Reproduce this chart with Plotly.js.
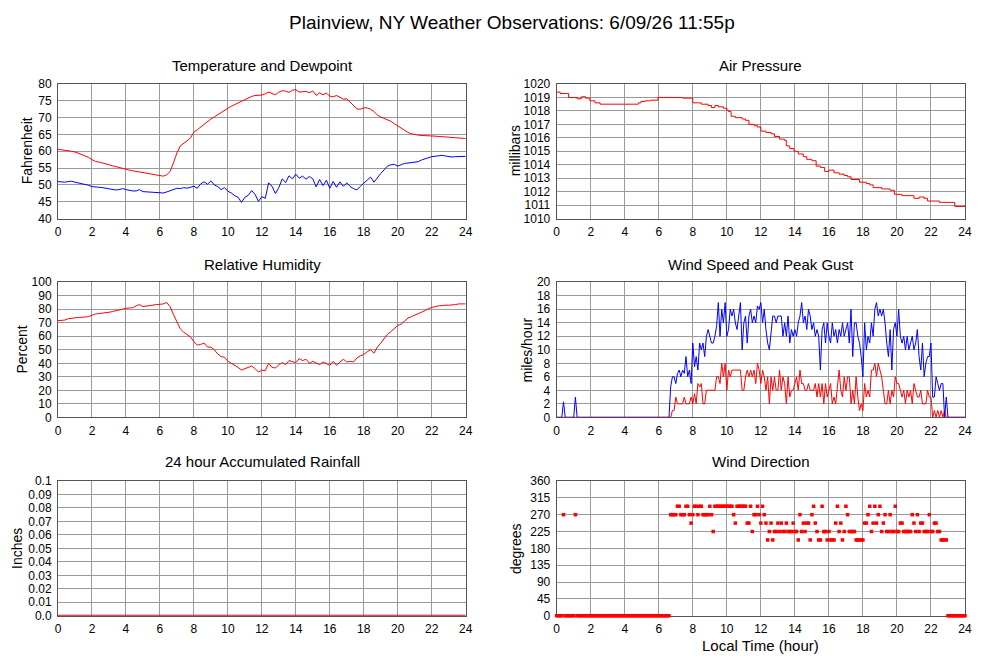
<!DOCTYPE html>
<html>
<head>
<meta charset="utf-8">
<script src="https://cdn.plot.ly/plotly-3.0.1.min.js"></script>
<style>
  html, body { margin: 0; padding: 0; background: #fff; }
  #chart { width: 1000px; height: 660px; }
</style>
</head>
<body>
<div id="chart"></div>
<script>
// ---------- time axes (local hour) ----------
const HOURS_FIFTH = Array.from({length: 121}, (_, i) => i / 5);   // 0, 0.2, ... 24
const HOURS_TENTH = Array.from({length: 241}, (_, i) => i / 10);  // 0, 0.1, ... 24
const HOURS_WHOLE = Array.from({length: 25}, (_, i) => i);        // 0, 1, ... 24
const X_TICKS = [0, 2, 4, 6, 8, 10, 12, 14, 16, 18, 20, 22, 24];

// ---------- Temperature (F), every 0.2 h ----------
const temperature = [
  60.6, 60.5, 60.3, 60.1, 60.0,
  59.8, 59.4, 59.1, 58.7, 58.2,
  57.5, 57.0, 56.8, 56.6, 56.3,
  56.0, 55.7, 55.4, 55.2, 55.0,
  54.7, 54.4, 54.2, 54.0, 53.8,
  53.6, 53.4, 53.2, 53.0, 52.8,
  52.6, 52.6, 53.0, 54.0, 56.6,
  59.5, 61.6, 62.3, 63.1, 64.0,
  65.7, 66.4, 67.2, 68.0, 68.9,
  69.6, 70.2, 70.9, 71.5, 72.2,
  72.8, 73.4, 73.9, 74.3, 74.8,
  75.5, 76.0, 76.3, 76.6, 76.7,
  76.7, 77.1, 77.6, 77.2, 76.8,
  77.6, 78.0, 77.9, 77.5, 78.2,
  78.3, 77.6, 77.6, 77.8, 77.4,
  77.9, 76.6, 77.4, 76.8, 77.3,
  76.4, 76.2, 76.6, 76.0, 75.5,
  75.6, 74.6, 73.8, 72.6, 72.5,
  72.9, 72.9, 72.5, 71.8, 70.8,
  70.2, 69.8, 69.4, 68.9, 68.2,
  67.5, 66.8, 66.1, 65.6, 65.2,
  64.9, 64.8, 64.7, 64.7, 64.6,
  64.5, 64.5, 64.4, 64.4, 64.3,
  64.2, 64.1, 64.0, 63.9, 63.9,
  63.8
];

// ---------- Dewpoint (F), every 0.2 h ----------
const dewpoint = [
  51.0, 50.9, 50.8, 51.0, 51.1,
  50.8, 50.6, 50.3, 50.1, 49.9,
  49.5, 49.3, 49.3, 49.2, 49.0,
  48.9, 48.7, 48.5, 48.6, 48.9,
  48.6, 48.3, 48.2, 48.2, 48.6,
  48.0, 47.9, 47.8, 47.8, 47.6,
  47.5, 47.6, 47.9, 48.3, 48.7,
  49.0, 48.9, 49.2, 49.0, 49.3,
  49.6, 49.0, 50.3, 50.9, 50.2,
  51.2, 50.0, 49.5, 48.6, 49.2,
  48.1, 47.6, 46.8, 46.3, 44.8,
  46.3, 46.9, 48.3, 47.2, 45.1,
  46.5, 46.0, 50.6, 49.6, 47.4,
  49.2, 51.8, 50.7, 52.7, 51.8,
  53.2, 52.0, 52.6, 51.7, 52.5,
  51.8, 49.4, 51.6, 49.8, 51.4,
  49.0, 51.0, 49.3, 50.9, 49.6,
  50.6, 49.5, 48.9, 48.5, 49.6,
  50.5, 51.5, 52.3, 50.8, 52.2,
  53.4, 54.5, 55.6, 56.0, 56.1,
  55.6, 56.1, 56.4, 56.5, 56.7,
  56.8, 56.9, 57.4, 57.7, 58.2,
  58.4, 58.5, 58.7, 58.8, 58.6,
  58.4, 58.3, 58.4, 58.5, 58.5,
  58.5
];

// ---------- Air pressure (mb), value holds from each change time ----------
const pressureHours = [
  0, 0.2, 0.7, 1.2, 1.45, 1.7, 1.95, 2.25, 2.55,
  4.8, 4.95, 5.2, 5.5, 5.95,
  7.4, 8.0, 8.5, 8.9, 9.1, 9.3, 9.5, 9.8, 10.0, 10.1,
  10.25, 10.5, 10.9, 11.1, 11.3, 11.6, 11.8, 12.0, 12.3, 12.6,
  12.8, 13.1, 13.4, 13.5, 13.7, 13.95, 14.2, 14.5, 14.7, 15.0,
  15.25, 15.5, 15.75, 16.0, 16.3, 16.6, 16.9, 17.1, 17.3, 17.8,
  18.2, 18.4, 18.6, 19.1, 19.6, 19.85, 20.3, 21.0, 21.3, 21.6,
  21.8, 22.5, 23.4, 24
];
const pressure = [
  1019.4, 1019.3, 1019.0, 1018.9, 1019.05, 1018.95, 1018.75, 1018.6, 1018.5,
  1018.6, 1018.7, 1018.75, 1018.8, 1019.0,
  1018.95, 1018.6, 1018.5, 1018.4, 1018.25, 1018.4, 1018.3, 1018.2, 1018.05, 1017.95,
  1017.6, 1017.5, 1017.4, 1017.3, 1017.0, 1016.9, 1016.8, 1016.5, 1016.4, 1016.3,
  1016.1, 1015.9, 1015.8, 1015.4, 1015.2, 1015.0, 1014.8, 1014.6, 1014.4, 1014.3,
  1013.9, 1013.8, 1013.5, 1013.6, 1013.4, 1013.3, 1013.2, 1013.1, 1012.9, 1012.7,
  1012.6, 1012.5, 1012.3, 1012.2, 1012.1, 1011.8, 1011.7, 1011.5, 1011.6, 1011.5,
  1011.3, 1011.2, 1010.9, 1010.9
];

// ---------- Relative humidity (%), every 0.2 h ----------
const humidity = [
  71.6, 71.8, 72.0, 73.0, 73.5,
  73.8, 74.0, 74.0, 74.2, 74.6,
  75.6, 76.5, 76.8, 77.0, 77.2,
  77.8, 78.3, 79.0, 79.5, 80.0,
  80.7, 81.0, 81.2, 82.5, 83.5,
  82.0, 82.5, 83.0, 83.2, 83.5,
  83.7, 84.0, 85.0, 82.0, 76.0,
  71.0, 65.5, 63.0, 61.5, 59.5,
  56.0, 53.5, 54.0, 55.0, 52.0,
  52.0, 50.0, 47.0, 45.0, 44.5,
  41.5, 40.0, 39.0, 37.0, 35.0,
  36.0, 36.5, 38.0, 36.0, 33.5,
  35.0, 34.5, 40.0, 37.0, 36.5,
  39.0, 40.5, 39.0, 42.0, 41.0,
  40.5, 43.5, 42.0, 43.0, 40.0,
  41.5, 40.0, 39.0, 41.0, 40.0,
  38.5, 41.5, 38.5, 41.0, 43.0,
  41.0, 41.5, 41.0, 44.0, 45.5,
  46.5, 48.5, 50.0, 47.5, 52.0,
  55.0, 58.0, 61.5, 63.5, 65.5,
  68.0, 69.0, 71.5, 73.5, 74.5,
  75.5, 77.0, 78.0, 79.0, 80.5,
  81.5, 82.0, 82.5, 83.0, 83.0,
  83.0, 83.0, 83.5, 84.0, 84.0,
  84.0
];

// ---------- Wind speed (mph), every 0.1 h ----------
const windSpeed = [
  0, 0, 0, 0, 0, 0, 0, 0, 0, 0,
  0, 0, 0, 0, 0, 0, 0, 0, 0, 0,
  0, 0, 0, 0, 0, 0, 0, 0, 0, 0,
  0, 0, 0, 0, 0, 0, 0, 0, 0, 0,
  0, 0, 0, 0, 0, 0, 0, 0, 0, 0,
  0, 0, 0, 0, 0, 0, 0, 0, 0, 0,
  0, 0, 0, 0, 0, 0, 0, 0, 1, 1,
  3, 2, 2, 2, 2, 3, 2, 2, 2, 3,
  2, 3.5, 2, 5, 4.5, 5, 2, 2, 4, 4,
  4, 4, 4, 4, 6, 6, 5, 8, 6, 8,
  4, 7, 6, 7, 7, 7, 7, 7, 7, 4,
  4, 6, 7, 6, 7, 6, 7, 5, 8, 7,
  5, 7, 6, 4, 6, 2, 6, 4, 6, 4,
  4, 7, 4, 6, 5, 2, 6, 3, 4, 4,
  5, 6, 4, 7, 5, 5, 4, 4, 5, 4,
  4, 4, 5, 3, 5, 3, 5, 2, 5, 3,
  4, 5, 2, 3, 2, 5, 7, 4, 3, 6,
  4, 6, 6, 2, 4, 2, 6, 3, 1, 2,
  1, 5, 3, 4, 3, 7, 7, 8, 6, 8,
  7, 6, 4, 2, 2, 4, 2, 4, 3, 6,
  5, 5, 4, 3, 4, 2, 4, 3, 4, 2,
  5, 4, 3, 3, 4, 2, 2, 2, 4, 3,
  3, 0, 1, 0, 1, 0, 1, 0, 1, 0,
  0, 0, 0, 0, 0, 0, 0, 0, 0, 0,
  0
];

// ---------- Peak gust (mph), every 0.1 h ----------
const peakGust = [
  0, 0, 0, 0, 2.3, 0, 0, 0, 0, 0,
  0, 3, 0, 0, 0, 0, 0, 0, 0, 0,
  0, 0, 0, 0, 0, 0, 0, 0, 0, 0,
  0, 0, 0, 0, 0, 0, 0, 0, 0, 0,
  0, 0, 0, 0, 0, 0, 0, 0, 0, 0,
  0, 0, 0, 0, 0, 0, 0, 0, 0, 0,
  0, 0, 0, 0, 0, 0, 0, 4.5, 6, 6,
  5, 6.5, 7, 6, 7, 6.5, 9, 6, 7, 5,
  11, 7.5, 9, 7, 11, 10, 11, 9, 12, 13,
  12, 11, 11, 12, 13.5, 17, 12, 16, 14, 17,
  12, 13, 16, 15, 16, 14, 13, 15, 17, 10,
  14, 15, 11, 15, 16, 14, 15, 14, 16.5, 16,
  17, 14, 16, 13, 11, 10, 13, 15, 15, 14,
  15, 15, 15, 12, 14, 12, 15, 11, 13, 12,
  13, 12, 14, 15, 17, 14, 15, 13, 16, 15,
  13, 14, 12, 13, 12, 7, 13, 14, 11, 14,
  12, 11, 14, 12, 13, 11, 13, 12, 14, 12,
  13, 14, 11, 16, 9, 14, 14, 12, 11, 9,
  6, 14, 10, 12, 11, 14, 12, 16, 17, 15,
  16, 15, 16, 14, 11, 9, 13, 7, 13, 14,
  12, 16, 12, 11, 12, 10, 12, 10, 11, 12,
  10, 11, 13, 9, 7, 11, 6, 8, 9, 9,
  11, 3, 3, 6, 5, 4, 5, 5, 0, 3,
  0, 0, 0, 0, 0, 0, 0, 0, 0, 0,
  0
];

// ---------- 24 hour accumulated rainfall (in), hourly ----------
const rainfall = [0, 0, 0, 0, 0, 0, 0, 0, 0, 0, 0, 0, 0, 0, 0, 0, 0, 0, 0, 0, 0, 0, 0, 0, 0];
const RAIN_TICKS = [0, 0.01, 0.02, 0.03, 0.04, 0.05, 0.06, 0.07, 0.08, 0.09, 0.1];
const RAIN_TICK_TEXT = ['0.0', '0.01', '0.02', '0.03', '0.04', '0.05', '0.06', '0.07', '0.08', '0.09', '0.1'];

// ---------- Wind direction (degrees), every 0.1 h ----------
const windDirection = [
  0, 0, 0, 0, 270, 0, 0, 0, 0, 0,
  0, 270, 0, 0, 0, 0, 0, 0, 0, 0,
  0, 0, 0, 0, 0, 0, 0, 0, 0, 0,
  0, 0, 0, 0, 0, 0, 0, 0, 0, 0,
  0, 0, 0, 0, 0, 0, 0, 0, 0, 0,
  0, 0, 0, 0, 0, 0, 0, 0, 0, 0,
  0, 0, 0, 0, 0, 0, 0, 270, 270, 270,
  270, 292.5, 292.5, 270, 270, 270, 292.5, 292.5, 270, 247.5,
  270, 292.5, 292.5, 270, 292.5, 292.5, 270, 270, 270, 270,
  292.5, 270, 225, 292.5, 292.5, 292.5, 292.5, 292.5, 292.5, 292.5,
  292.5, 292.5, 292.5, 292.5, 270, 247.5, 292.5, 292.5, 292.5, 292.5,
  292.5, 292.5, 247.5, 247.5, 292.5, 225, 270, 270, 292.5, 270,
  247.5, 292.5, 270, 247.5, 202.5, 225, 247.5, 202.5, 225, 225,
  247.5, 225, 247.5, 225, 225, 247.5, 225, 225, 225, 247.5,
  225, 225, 202.5, 270, 225, 247.5, 225, 247.5, 247.5, 202.5,
  270, 292.5, 247.5, 225, 202.5, 202.5, 292.5, 225, 225, 202.5,
  225, 202.5, 202.5, 202.5, 247.5, 292.5, 225, 247.5, 202.5, 225,
  292.5, 270, 225, 225, 225, 225, 202.5, 202.5, 202.5, 202.5,
  202.5, 247.5, 247.5, 270, 292.5, 225, 247.5, 292.5, 247.5, 270,
  292.5, 225, 247.5, 270, 225, 225, 270, 225, 225, 292.5,
  225, 225, 247.5, 247.5, 225, 225, 225, 225, 225, 270,
  247.5, 225, 270, 225, 247.5, 247.5, 225, 225, 225, 270,
  225, 225, 247.5, 247.5, 225, 225, 202.5, 202.5, 202.5, 202.5,
  0, 0, 0, 0, 0, 0, 0, 0, 0, 0,
  0
];

// ---------- styling ----------
const RED = '#ff0000';
const BLUE = '#0000ff';
const FONT = 'Liberation Sans, Arial, Helvetica, sans-serif';
const GRID = '#9a9a9a';
const FRAME = '#555555';

const colLeft = [0.058, 0.4657];
const colRight = [0.5567, 0.965];
const row1 = [0.6689, 0.8727];
const row2 = [0.3677, 0.5723];
const row3 = [0.0671, 0.2712];

function xAxis(domain, anchor) {
  return {
    domain: domain, anchor: anchor, range: [0, 24],
    tickmode: 'array', tickvals: X_TICKS,
    showgrid: true, gridcolor: GRID, gridwidth: 1,
    showline: true, linecolor: FRAME, linewidth: 1, mirror: true,
    zeroline: false, ticks: 'outside', ticklen: 2, tickcolor: 'rgba(0,0,0,0)',
    tickfont: {family: FONT, size: 12, color: '#000'},
    layer: 'below traces', fixedrange: true
  };
}
function yAxis(domain, anchor, range, tickvals, ticktext) {
  const ax = {
    domain: domain, anchor: anchor, range: range,
    tickmode: 'array', tickvals: tickvals,
    showgrid: true, gridcolor: GRID, gridwidth: 1,
    showline: true, linecolor: FRAME, linewidth: 1, mirror: true,
    zeroline: false, ticks: 'outside', ticklen: 3, tickcolor: 'rgba(0,0,0,0)',
    tickfont: {family: FONT, size: 12, color: '#000'},
    layer: 'below traces', fixedrange: true
  };
  if (ticktext) ax.ticktext = ticktext;
  return ax;
}

const TEMP_TICKS = [40, 45, 50, 55, 60, 65, 70, 75, 80];
const PRES_TICKS = [1010, 1011, 1012, 1013, 1014, 1015, 1016, 1017, 1018, 1019, 1020];
const RH_TICKS = [0, 10, 20, 30, 40, 50, 60, 70, 80, 90, 100];
const WIND_TICKS = [0, 2, 4, 6, 8, 10, 12, 14, 16, 18, 20];
const DIR_TICKS = [0, 45, 90, 135, 180, 225, 270, 315, 360];

const lineStyle = (c) => ({color: c, width: 1});

const traces = [
  {x: HOURS_FIFTH, y: temperature, type: 'scatter', mode: 'lines', line: lineStyle(RED), xaxis: 'x', yaxis: 'y', name: 'Temperature'},
  {x: HOURS_FIFTH, y: dewpoint, type: 'scatter', mode: 'lines', line: lineStyle(BLUE), xaxis: 'x', yaxis: 'y', name: 'Dewpoint'},
  {x: pressureHours, y: pressure, type: 'scatter', mode: 'lines', line: {color: RED, width: 1, shape: 'hv'}, xaxis: 'x2', yaxis: 'y2', name: 'Pressure'},
  {x: HOURS_FIFTH, y: humidity, type: 'scatter', mode: 'lines', line: lineStyle(RED), xaxis: 'x3', yaxis: 'y3', name: 'Relative Humidity'},
  {x: HOURS_TENTH, y: windSpeed, type: 'scatter', mode: 'lines', line: lineStyle(RED), xaxis: 'x4', yaxis: 'y4', name: 'Wind Speed'},
  {x: HOURS_TENTH, y: peakGust, type: 'scatter', mode: 'lines', line: lineStyle(BLUE), xaxis: 'x4', yaxis: 'y4', name: 'Peak Gust'},
  {x: HOURS_WHOLE, y: rainfall, type: 'scatter', mode: 'lines', line: {color: RED, width: 2}, xaxis: 'x5', yaxis: 'y5', name: 'Rainfall'},
  {x: HOURS_TENTH, y: windDirection, type: 'scatter', mode: 'markers', marker: {color: RED, size: 3.5, symbol: 'square', line: {width: 0}}, cliponaxis: false, xaxis: 'x6', yaxis: 'y6', name: 'Wind Direction'}
];

const ttl = (text, x, y, size) => ({
  text: text, x: x, y: y, xref: 'paper', yref: 'paper',
  xanchor: 'center', yanchor: 'middle', showarrow: false,
  font: {family: FONT, size: size, color: '#000'}
});
const ytl = (text, x, y) => Object.assign(ttl(text, x, y, 14), {textangle: -90});

const layout = {
  width: 1000, height: 660,
  margin: {l: 0, r: 0, t: 0, b: 0},
  paper_bgcolor: '#ffffff', plot_bgcolor: '#ffffff',
  showlegend: false,
  font: {family: FONT, size: 12, color: '#000'},
  xaxis: xAxis(colLeft, 'y'),
  yaxis: yAxis(row1, 'x', [40, 80], TEMP_TICKS),
  xaxis2: xAxis(colRight, 'y2'),
  yaxis2: yAxis(row1, 'x2', [1010, 1020], PRES_TICKS),
  xaxis3: xAxis(colLeft, 'y3'),
  yaxis3: yAxis(row2, 'x3', [0, 100], RH_TICKS),
  xaxis4: xAxis(colRight, 'y4'),
  yaxis4: yAxis(row2, 'x4', [0, 20], WIND_TICKS),
  xaxis5: xAxis(colLeft, 'y5'),
  yaxis5: yAxis(row3, 'x5', [0, 0.1], RAIN_TICKS, RAIN_TICK_TEXT),
  xaxis6: xAxis(colRight, 'y6'),
  yaxis6: yAxis(row3, 'x6', [0, 360], DIR_TICKS),
  annotations: [
    ttl('Plainview, NY Weather Observations: 6/09/26 11:55p', 0.512, 1 - 22.5 / 660, 19),
    ttl('Temperature and Dewpoint', 0.262, 1 - 65 / 660, 15),
    ttl('Air Pressure', 0.7605, 1 - 65 / 660, 15),
    ttl('Relative Humidity', 0.262, 1 - 264 / 660, 15),
    ttl('Wind Speed and Peak Gust', 0.7605, 1 - 264 / 660, 15),
    ttl('24 hour Accumulated Rainfall', 0.262, 1 - 462 / 660, 15),
    ttl('Wind Direction', 0.7605, 1 - 462 / 660, 15),
    ttl('Local Time (hour)', 0.7605, 1 - 645 / 660, 15),
    ytl('Fahrenheit', 0.027, 1 - 151.3 / 660),
    ytl('millibars', 0.515, 1 - 151.3 / 660),
    ytl('Percent', 0.0217, 1 - 349.8 / 660),
    ytl('miles/hour', 0.5267, 1 - 349.8 / 660),
    ytl('Inches', 0.0177, 1 - 548.3 / 660),
    ytl('degrees', 0.5167, 1 - 548.3 / 660)
  ]
};

Plotly.newPlot('chart', traces, layout, {displayModeBar: false, staticPlot: true});
</script>
</body>
</html>
